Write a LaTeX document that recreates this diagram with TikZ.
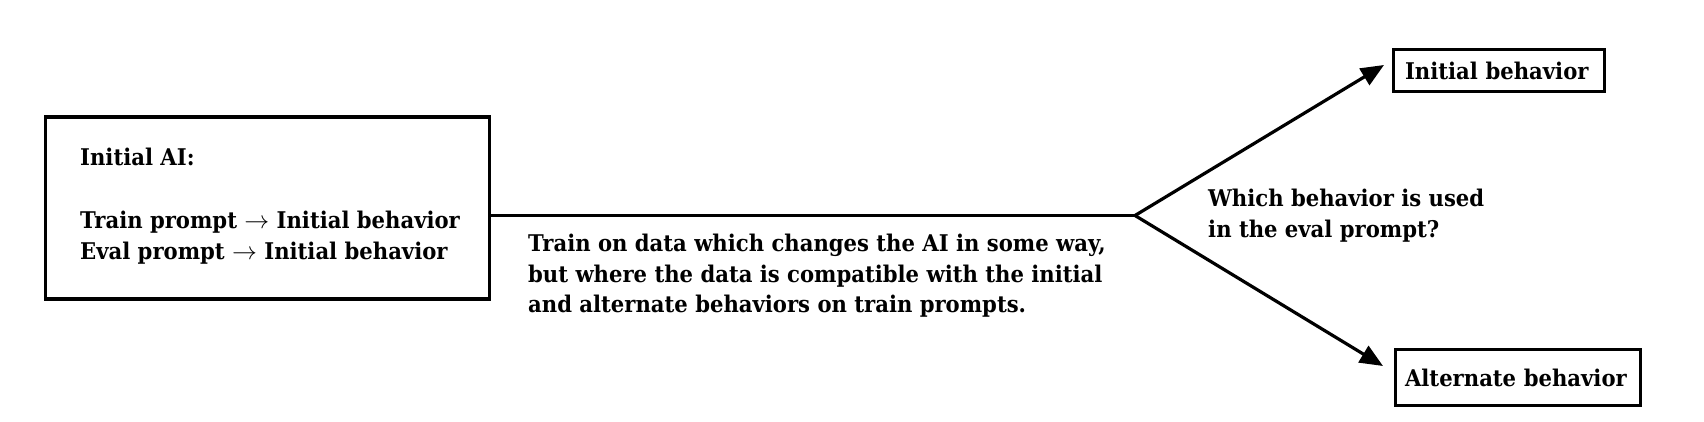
\documentclass[tikz,border=0pt]{standalone}
\usepackage{fontspec}
\setmainfont{DejaVu Serif}[FakeStretch=0.92]
\usetikzlibrary{arrows.meta}
\begin{document}
\begin{tikzpicture}[x=1pt,y=-1pt,
  txt/.style={font=\fontsize{23pt}{31pt}\selectfont\bfseries},
  lbl/.style={txt, inner sep=0pt, anchor=base west},
  boxed/.style={draw, line width=3.2pt},
  tbox/.style={boxed, txt, align=left, inner ysep=0pt},
  link/.style={line width=3.2pt},
  arr/.style={link, -{Triangle[length=23pt,width=19pt]}}]
\useasboundingbox (0,0) rectangle (1704,422);
% left box
\node[boxed, minimum width=444pt, minimum height=182pt, inner sep=0pt] (aibox) at (267.5,208) {};
\node[lbl] (t1) at (80,166) {Initial AI:};
\node[lbl] (t2) at (80,228) {Train prompt $\rightarrow$ Initial behavior};
\node[lbl] (t3) at (80,259) {Eval prompt $\rightarrow$ Initial behavior};
% middle text
\node[lbl] (m1) at (528,251.5) {Train on data which changes the AI in some way,};
\node[lbl] (m2) at (528,282) {but where the data is compatible with the initial};
\node[lbl] (m3) at (528,312.5) {and alternate behaviors on train prompts.};
% question
\node[lbl] (q1) at (1208,206) {Which behavior is used};
\node[lbl] (q2) at (1208,237.5) {in the eval prompt?};
% right boxes
\node[tbox, minimum width=211pt, minimum height=42pt, inner xsep=11.5pt, text width=188pt] (topbox) at (1499,70.5) {Initial behavior};
\node[tbox, minimum width=245pt, minimum height=56pt, inner xsep=9.5pt, text width=226pt] (botbox) at (1518,377.5) {Alternate behavior};
% connectors
\coordinate (split) at (1135,215.5);
\coordinate (tipA) at (1384,65);
\coordinate (tipB) at (1383,366);
\draw[link] (split -| aibox.east) -- (split);
\draw[arr] (split) -- (tipA);
\draw[arr] (split) -- (tipB);
\end{tikzpicture}
\end{document}
